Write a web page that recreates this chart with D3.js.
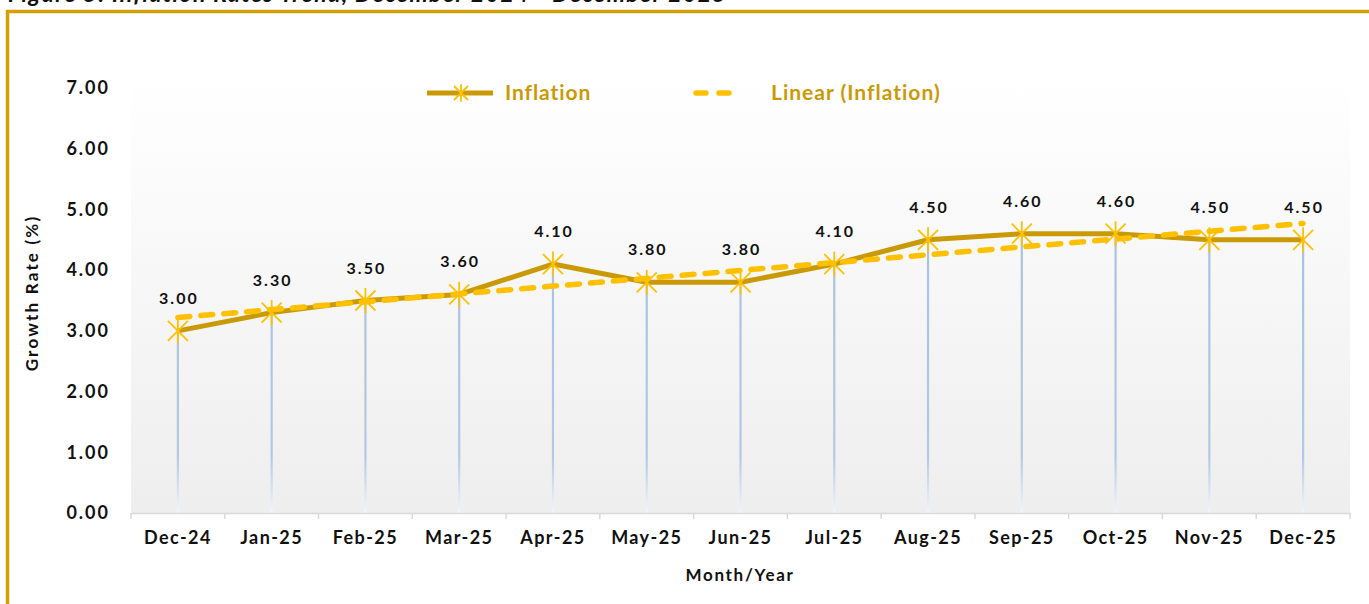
<!DOCTYPE html>
<html><head><meta charset="utf-8">
<script src="https://cdn.jsdelivr.net/npm/d3@7"></script>
<style>
html,body{margin:0;padding:0;background:#fff;}
svg{display:block;font-family:Lato,"Open Sans",sans-serif;}
</style></head>
<body>
<script>
const categories = ["Dec-24","Jan-25","Feb-25","Mar-25","Apr-25","May-25","Jun-25","Jul-25","Aug-25","Sep-25","Oct-25","Nov-25","Dec-25"];
const inflation = [3.00,3.30,3.50,3.60,4.10,3.80,3.80,4.10,4.50,4.60,4.60,4.50,4.50];
const trendEnds = [3.22,4.77];
const yTicks = [0,1,2,3,4,5,6,7];
const title = "Figure 5: Inflation Rates Trend, December 2024 - December 2025";

(function(){
const W = 1369, H = 604;
const svg = d3.select("body").append("svg").attr("width",W).attr("height",H);
const defs = svg.append("defs");
const bg = defs.append("linearGradient").attr("id","bg").attr("x1",0).attr("y1",0).attr("x2",0).attr("y2",1);
bg.append("stop").attr("offset","0%").attr("stop-color","#ffffff");
bg.append("stop").attr("offset","100%").attr("stop-color","#eeeeee");
const dg = defs.append("linearGradient").attr("id","drop").attr("gradientUnits","userSpaceOnUse")
  .attr("x1",0).attr("y1",230).attr("x2",0).attr("y2",513);
dg.append("stop").attr("offset","0%").attr("stop-color","#a9c1e0");
dg.append("stop").attr("offset","80%").attr("stop-color","#b3c8e3");
dg.append("stop").attr("offset","100%").attr("stop-color","#f2f5fa");

svg.append("text").attr("x",8).attr("y",2).attr("font-size",23).attr("font-weight","bold")
  .attr("font-style","italic").attr("letter-spacing",1.4).attr("fill","#111").text(title);

svg.append("rect").attr("x",7.5).attr("y",11.5).attr("width",W+20).attr("height",H+20)
  .attr("fill","none").attr("stroke","#d49f00").attr("stroke-width",3.5);

const pl = 131, pr = 1350, pt = 75, pb = 513;
const x = d3.scaleBand().domain(categories).range([pl,pr]).padding(0);
const y = d3.scaleLinear().domain([0,7]).range([pb,88]);

svg.append("rect").attr("x",pl).attr("y",pt).attr("width",pr-pl).attr("height",pb-pt).attr("fill","url(#bg)");

svg.append("g").selectAll("line").data(inflation).join("line")
  .attr("x1",(d,i)=>x(categories[i])+x.bandwidth()/2)
  .attr("x2",(d,i)=>x(categories[i])+x.bandwidth()/2)
  .attr("y1",d=>y(d)).attr("y2",pb)
  .attr("stroke","url(#drop)").attr("stroke-width",2.2);

const xAxis = svg.append("g").attr("transform",`translate(0,${pb})`)
  .call(d3.axisBottom(x).tickSize(0).tickPadding(18));
xAxis.select(".domain").attr("stroke","#d9d9d9").attr("stroke-width",1.5);
xAxis.selectAll("text").attr("font-size",18).attr("font-weight","bold").attr("fill","#111")
  .attr("font-family","Lato,sans-serif").attr("letter-spacing",1.4);
const bounds = categories.map(c=>x(c)).concat([pr]);
svg.append("g").selectAll("line").data(bounds).join("line")
  .attr("x1",d=>d).attr("x2",d=>d).attr("y1",pb).attr("y2",pb+6)
  .attr("stroke","#d9d9d9").attr("stroke-width",1.5);

const yAxis = svg.append("g").attr("transform",`translate(${pl},0)`)
  .call(d3.axisLeft(y).tickValues(yTicks).tickFormat(d3.format(".2f")).tickSize(0).tickPadding(21));
yAxis.select(".domain").remove();
yAxis.selectAll("text").attr("font-size",18).attr("font-weight","bold").attr("fill","#111")
  .attr("font-family","Lato,sans-serif").attr("letter-spacing",2);

svg.append("text").attr("x",740).attr("y",581).attr("text-anchor","middle").attr("letter-spacing",1.7)
  .attr("font-size",17).attr("font-weight","bold").attr("fill","#111").text("Month/Year");
svg.append("text").attr("transform","translate(38,293) rotate(-90)").attr("text-anchor","middle").attr("letter-spacing",2.2)
  .attr("font-size",17).attr("font-weight","bold").attr("fill","#111").text("Growth Rate (%)");

const cx = i => x(categories[i]) + x.bandwidth()/2;

svg.append("path").datum(inflation)
  .attr("d",d3.line().x((d,i)=>cx(i)).y(d=>y(d)))
  .attr("fill","none").attr("stroke","#c99a06").attr("stroke-width",5).attr("stroke-linejoin","round");

svg.append("line")
  .attr("x1",cx(0)).attr("y1",y(trendEnds[0]))
  .attr("x2",cx(categories.length-1)).attr("y2",y(trendEnds[1]))
  .attr("stroke","#ffc000").attr("stroke-width",5.5).attr("stroke-dasharray","12 11")
  .attr("stroke-linecap","round");

function star(g, px, py, r){
  const s = g.append("g").attr("transform",`translate(${px},${py})`);
  [[-r,-r,r,r],[-r,r,r,-r],[0,-r*1.25,0,r*1.25]].forEach(a=>{
    s.append("line").attr("x1",a[0]).attr("y1",a[1]).attr("x2",a[2]).attr("y2",a[3])
      .attr("stroke","#ffc000").attr("stroke-width",1.8);
  });
}
const mk = svg.append("g");
inflation.forEach((d,i)=>star(mk,cx(i),y(d),10));

svg.append("g").selectAll("text").data(inflation).join("text")
  .attr("x",(d,i)=>cx(i)+1).attr("y",d=>y(d)-27).attr("text-anchor","middle")
  .attr("font-size",16).attr("font-weight","bold").attr("fill","#111").attr("letter-spacing",2)
  .text(d=>d3.format(".2f")(d));

const lg = svg.append("g");
lg.append("line").attr("x1",427).attr("x2",493).attr("y1",93).attr("y2",93).attr("stroke","#c99a06").attr("stroke-width",5);
star(lg,461,93,7);
lg.append("text").attr("x",505).attr("y",100).attr("font-size",21).attr("font-weight","bold").attr("letter-spacing",0.9)
  .attr("fill","#c99a06").text("Inflation");
lg.append("line").attr("x1",696).attr("x2",734).attr("y1",93).attr("y2",93).attr("stroke","#ffc000").attr("stroke-width",5.5)
  .attr("stroke-dasharray","10 13").attr("stroke-linecap","round");
lg.append("text").attr("x",771).attr("y",100).attr("font-size",21).attr("font-weight","bold").attr("letter-spacing",1)
  .attr("fill","#c99a06").text("Linear (Inflation)");
})();
</script>
</body></html>
